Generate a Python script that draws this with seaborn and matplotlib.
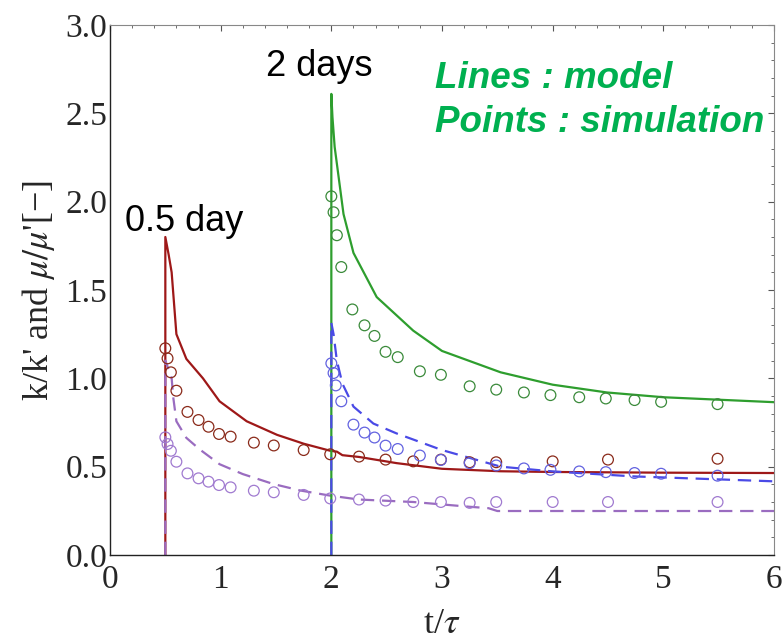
import numpy as np
import pandas as pd
import seaborn as sns
import matplotlib
matplotlib.use("Agg")
import matplotlib.pyplot as plt
from matplotlib.ticker import MultipleLocator

# ---- data ----
# model lines
red_line_t = [0.5, 0.5, 0.53, 0.557, 0.60, 0.69, 0.84, 0.99, 1.235, 1.51, 1.75, 1.99, 2.05, 2.1, 2.25, 2.59, 3.0, 3.53, 4.0, 5.0, 6.0]
red_line_v = [0.0, 1.80, 1.70, 1.60, 1.25, 1.11, 1.0, 0.87, 0.757, 0.68, 0.63, 0.59, 0.585, 0.565, 0.555, 0.52, 0.488, 0.474, 0.47, 0.466, 0.464]

purple_line_t = [0.5, 0.5, 0.53, 0.557, 0.572, 0.60, 0.69, 0.81, 0.99, 1.20, 1.475, 1.72, 1.99, 2.25, 2.74, 3.25, 3.42, 3.5, 6.0]
purple_line_v = [0.0, 1.10, 1.05, 1.0, 0.89, 0.757, 0.663, 0.598, 0.514, 0.458, 0.402, 0.365, 0.336, 0.314, 0.30, 0.273, 0.265, 0.249, 0.249]

green_line_t = [2.0, 2.0, 2.01, 2.03, 2.11, 2.20, 2.41, 2.74, 3.0, 3.53, 4.0, 4.49, 5.0, 6.0]
green_line_v = [0.0, 2.61, 2.48, 2.31, 1.93, 1.71, 1.46, 1.27, 1.155, 1.034, 0.964, 0.92, 0.893, 0.865]

blue_line_t = [2.0, 2.0, 2.02, 2.05, 2.1, 2.2, 2.38, 2.59, 3.0, 3.53, 4.0, 4.73, 6.0]
blue_line_v = [0.0, 1.314, 1.25, 1.10, 0.97, 0.84, 0.744, 0.688, 0.594, 0.50, 0.473, 0.445, 0.417]

# simulation points
red_pts_t = [0.50, 0.52, 0.55, 0.60, 0.70, 0.80, 0.89, 0.985, 1.09, 1.30, 1.48, 1.75, 1.99, 2.25, 2.49, 2.74, 2.99, 3.25, 3.49, 4.0, 4.5, 5.49]
red_pts_v = [1.17, 1.113, 1.034, 0.93, 0.81, 0.764, 0.726, 0.685, 0.67, 0.636, 0.62, 0.594, 0.57, 0.557, 0.54, 0.53, 0.54, 0.525, 0.525, 0.53, 0.54, 0.545]

purple_pts_t = [0.50, 0.52, 0.55, 0.60, 0.70, 0.80, 0.89, 0.985, 1.09, 1.30, 1.48, 1.75, 1.99, 2.25, 2.49, 2.74, 2.99, 3.25, 3.49, 4.0, 4.5, 5.49]
purple_pts_v = [0.666, 0.628, 0.59, 0.528, 0.462, 0.434, 0.415, 0.396, 0.383, 0.364, 0.355, 0.34, 0.32, 0.314, 0.308, 0.30, 0.30, 0.295, 0.30, 0.30, 0.30, 0.30]

green_pts_t = [2.0, 2.02, 2.05, 2.09, 2.19, 2.30, 2.39, 2.49, 2.6, 2.8, 2.99, 3.25, 3.49, 3.74, 3.98, 4.24, 4.48, 4.74, 4.98, 5.49]
green_pts_v = [2.03, 1.94, 1.81, 1.63, 1.39, 1.30, 1.24, 1.15, 1.12, 1.04, 1.02, 0.955, 0.936, 0.92, 0.905, 0.893, 0.886, 0.877, 0.867, 0.854]

blue_pts_t = [2.0, 2.02, 2.04, 2.09, 2.2, 2.30, 2.39, 2.49, 2.6, 2.8, 2.99, 3.25, 3.49, 3.74, 3.98, 4.24, 4.48, 4.74, 4.98, 5.49]
blue_pts_v = [1.085, 1.03, 0.96, 0.87, 0.738, 0.693, 0.665, 0.619, 0.60, 0.563, 0.538, 0.52, 0.507, 0.49, 0.482, 0.473, 0.469, 0.464, 0.46, 0.449]

x_ticks = [0, 1, 2, 3, 4, 5, 6]
y_ticks = [0.0, 0.5, 1.0, 1.5, 2.0, 2.5, 3.0]
y_tick_labels = ["0.0", "0.5", "1.0", "1.5", "2.0", "2.5", "3.0"]

# ---- styling ----
sns.set_style("white")
plt.rcParams["font.family"] = ["Liberation Serif", "DejaVu Serif"]
plt.rcParams["mathtext.fontset"] = "stix"

fig = plt.figure(figsize=(7.84, 6.42), dpi=100)
ax = fig.add_axes([110 / 784, 1 - 555 / 642, 664 / 784, 530 / 642])

RED = "#9e1818"
PURPLE = "#9a6cc0"
GREEN = "#2e9e2e"
BLUE = "#4a4ae6"

def line(t, v, color, dashed=False, lw=1.6):
    df = pd.DataFrame({"t": t, "v": v})
    sns.lineplot(data=df, x="t", y="v", sort=False, estimator=None, color=color,
                 linewidth=lw, ax=ax, legend=False)
    ln = ax.lines[-1]
    if dashed:
        ln.set_dashes([6, 3.5])

def points(t, v, color):
    df = pd.DataFrame({"t": t, "v": v})
    sns.scatterplot(data=df, x="t", y="v", color=color, facecolors="none",
                    edgecolors=color, s=60, linewidth=0.9, ax=ax, legend=False, zorder=3)
    ax.collections[-1].set_facecolor("none")

line(red_line_t, red_line_v, RED)
line(purple_line_t, purple_line_v, PURPLE, dashed=True)
line(green_line_t, green_line_v, GREEN)
line(blue_line_t, blue_line_v, BLUE, dashed=True)

points(red_pts_t, red_pts_v, "#8a2a1a")
points(purple_pts_t, purple_pts_v, "#a07ad0")
points(green_pts_t, green_pts_v, "#3a8a3a")
points(blue_pts_t, blue_pts_v, "#6262e0")

ax.set_xlim(0, 6)
ax.set_ylim(0, 3)
ax.set_xticks(x_ticks)
ax.set_xticklabels([str(x) for x in x_ticks])
ax.set_yticks(y_ticks)
ax.set_yticklabels(y_tick_labels)
ax.xaxis.set_minor_locator(MultipleLocator(0.2))
ax.yaxis.set_minor_locator(MultipleLocator(0.1))
ax.tick_params(which="both", direction="in", top=True, right=True, labelsize=24,
               color="#555555")
ax.tick_params(which="major", length=4, width=0.8)
ax.tick_params(which="minor", length=2.5, width=0.6)
ax.tick_params(axis="x", which="major", pad=7)
ax.tick_params(axis="y", which="major", pad=2)

for s in ["left", "bottom"]:
    ax.spines[s].set_color("#222222")
    ax.spines[s].set_linewidth(1.0)
for s in ["top", "right"]:
    ax.spines[s].set_color("#888888")
    ax.spines[s].set_linewidth(0.8)

ax.set_xlabel(r"t/$\tau$", fontsize=26, labelpad=9)
ax.set_ylabel(r"k/k' and $\mu/\mu$'[−]", fontsize=26, labelpad=6)

ax.text(0.673, 1.89, "0.5 day", fontsize=26, family="Liberation Sans",
        ha="center", va="center", color="black")
ax.text(1.89, 2.765, "2 days", fontsize=26, family="Liberation Sans",
        ha="center", va="center", color="black")
TXT_GREEN = "#00b050"
ax.text(2.94, 2.70, "Lines : model", fontsize=26.5, family="Liberation Sans",
        style="italic", weight="bold", ha="left", va="center", color=TXT_GREEN)
ax.text(2.94, 2.45, "Points : simulation", fontsize=26.5, family="Liberation Sans",
        style="italic", weight="bold", ha="left", va="center", color=TXT_GREEN)

fig.savefig("out.png", dpi=100)
